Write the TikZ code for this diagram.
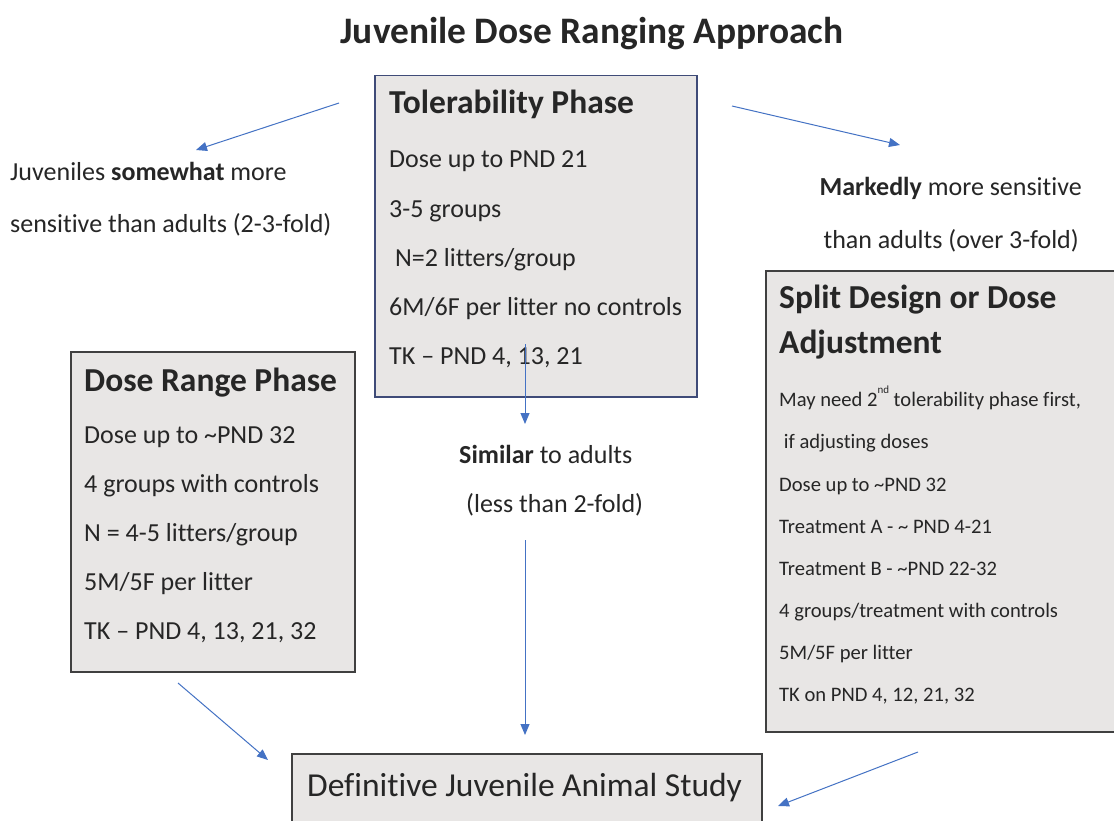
\documentclass[tikz,border=0pt]{standalone}
\usepackage{fontspec}
\setmainfont{Carlito}[Ligatures=CommonOff]
\usetikzlibrary{arrows.meta}
\definecolor{boxfill}{HTML}{E8E6E5}
\definecolor{boxline}{HTML}{404040}
\definecolor{tolline}{HTML}{3F4B78}
\definecolor{arr}{HTML}{4472C4}
\newcommand{\fs}[1]{\fontsize{#1}{#1}\selectfont}
\begin{document}
\begin{tikzpicture}[x=1pt,y=-1pt,
  box/.style={draw=boxline, fill=boxfill, line width=1.5pt, anchor=north west, inner sep=0pt},
  txt/.style={anchor=base west, inner sep=0pt, text=black!85},
  body/.style={txt, font=\fs{26}},
  small/.style={txt, font=\fs{20.6}},
  head/.style={txt, font=\fs{33.5}\bfseries},
  conn/.style={draw=arr, line width=1pt, -{Triangle[length=11pt,width=9pt]}}]
\useasboundingbox (0,0) rectangle (1114,821);
\fill[white] (0,0) rectangle (1114,821);
% title
\node[anchor=base, inner sep=0pt, font=\fs{37.4}\bfseries, text=black!85] (title) at (592,44) {Juvenile Dose Ranging Approach};
% boxes
\node[box, draw=tolline, minimum width=322pt, minimum height=321pt] (tol) at (374,75) {};
\node[box, minimum width=284pt, minimum height=320pt] (dr) at (70,351) {};
\node[box, minimum width=349pt, minimum height=461pt] (sd) at (765,270) {};
\node[box, minimum width=470pt, minimum height=90pt] (def) at (291,753) {};
% tolerability text
\node[head] (t0) at (389,114) {Tolerability Phase};
\node[body] (t1) at (389,168) {Dose up to PND 21};
\node[body] (t2) at (389,218) {3-5 groups};
\node[body] (t3) at (389,266) {\ N=2 litters/group};
\node[body] (t4) at (389,315) {6M/6F per litter no controls};
\node[body] (t5) at (389,364) {TK – PND 4, 13, 21};
% dose range text
\node[head] (d0) at (84,391) {Dose Range Phase};
\node[body] (d1) at (84,443) {Dose up to \textasciitilde PND 32};
\node[body] (d2) at (84,492) {4 groups with controls};
\node[body] (d3) at (84,541) {N = 4-5 litters/group};
\node[body] (d4) at (84,590) {5M/5F per litter};
\node[body] (d5) at (84,639) {TK – PND 4, 13, 21, 32};
% split design text
\node[head] (s0) at (779,308) {Split Design or Dose};
\node[head] (s0b) at (779,353) {Adjustment};
\node[small] (s1) at (779,406) {May need 2\raisebox{0.6em}{\fs{11}nd} tolerability phase first,};
\node[small] (s2) at (779,448) {\ if adjusting doses};
\node[small] (s3) at (779,491) {Dose up to \textasciitilde PND 32};
\node[small] (s4) at (779,533) {Treatment A - \textasciitilde\ PND 4-21};
\node[small] (s5) at (779,575) {Treatment B - \textasciitilde PND 22-32};
\node[small] (s6) at (779,617) {4 groups/treatment with controls};
\node[small] (s7) at (779,659) {5M/5F per litter};
\node[small] (s8) at (779,701) {TK on PND 4, 12, 21, 32};
% definitive
\node[txt, font=\fs{33.5}] (dj) at (307,796) {Definitive Juvenile Animal Study};
% side labels
\node[body] (l1) at (10,181) {Juveniles \textbf{somewhat} more};
\node[body] (l2) at (10,233) {sensitive than adults (2-3-fold)};
\node[body, anchor=base east] (r1) at (1082,196) {\textbf{Markedly} more sensitive};
\node[body, anchor=base east] (r2) at (1079,248) {than adults (over 3-fold)};
\node[body] (m1) at (459,463) {\textbf{Similar} to adults};
\node[body] (m2) at (466,512) {(less than 2-fold)};
% arrow endpoints
\coordinate (a1s) at (339,103); \coordinate (a1e) at (196,150);
\coordinate (a2s) at (732,106); \coordinate (a2e) at (900,145);
\coordinate (a3s) at (525,344); \coordinate (a3e) at (525,424);
\coordinate (a4s) at (525,540); \coordinate (a4e) at (525,735);
\coordinate (a5s) at (178,683); \coordinate (a5e) at (268,760);
\coordinate (a6s) at (918,752); \coordinate (a6e) at (778,806);
\draw[conn] (a1s) -- (a1e);
\draw[conn] (a2s) -- (a2e);
\draw[conn] (a3s) -- (a3e);
\draw[conn] (a4s) -- (a4e);
\draw[conn] (a5s) -- (a5e);
\draw[conn] (a6s) -- (a6e);
\end{tikzpicture}
\end{document}
